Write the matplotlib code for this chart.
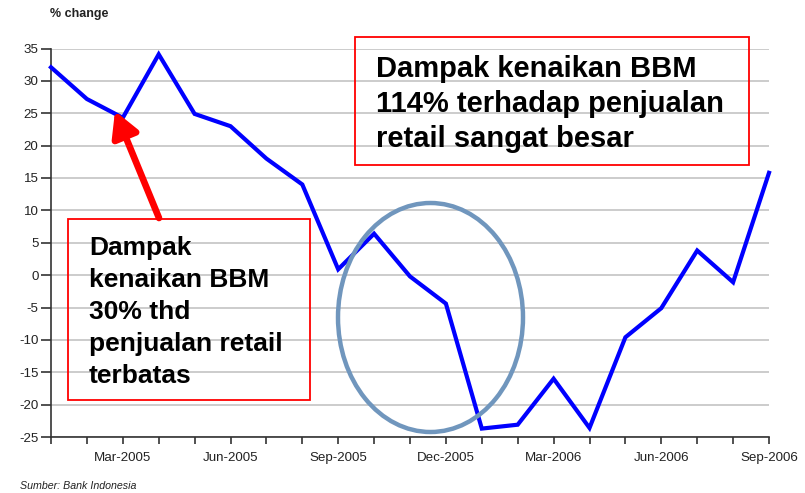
import matplotlib
matplotlib.use("Agg")
import matplotlib.pyplot as plt
from matplotlib.patches import Rectangle, Ellipse, FancyArrowPatch

plt.rcParams['font.family'] = ['Liberation Sans', 'DejaVu Sans']

# ---- data ----
months = ["Jan-2005", "Feb-2005", "Mar-2005", "Apr-2005", "May-2005", "Jun-2005",
          "Jul-2005", "Aug-2005", "Sep-2005", "Oct-2005", "Nov-2005", "Dec-2005",
          "Jan-2006", "Feb-2006", "Mar-2006", "Apr-2006", "May-2006", "Jun-2006",
          "Jul-2006", "Aug-2006", "Sep-2006"]
values = [32.1, 27.2, 24.3, 34.1, 24.9, 23.0, 18.0, 14.0, 0.9, 6.4, -0.2, -4.4,
          -23.7, -23.1, -16.0, -23.6, -9.6, -5.1, 3.8, -1.1, 15.8]
yticks = [35, 30, 25, 20, 15, 10, 5, 0, -5, -10, -15, -20, -25]
labelled_months = ["Mar-2005", "Jun-2005", "Sep-2005", "Dec-2005",
                   "Mar-2006", "Jun-2006", "Sep-2006"]

W, H = 805, 493
fig = plt.figure(figsize=(W / 100, H / 100), dpi=100)

def fx(x):
    return x / W

def fy(y):
    return 1 - y / H

ax = fig.add_axes([fx(51), fy(437), fx(769) - fx(51), fy(48.5) - fy(437)])
x = list(range(len(months)))
ax.plot(x, values, color='#0000ff', lw=3.0, solid_joinstyle='miter', zorder=3, clip_on=False)

ax.set_xlim(0, len(months) - 1)
ax.set_ylim(-25, 35)
ax.set_yticks(yticks)
ax.set_yticklabels([str(v) for v in yticks])
ax.set_xticks(x)
ax.set_xticklabels([m if m in labelled_months else "" for m in months])
ax.grid(axis='y', color='#c8c8c8', lw=1.3)
ax.set_axisbelow(True)
for s in ['top', 'right']:
    ax.spines[s].set_visible(False)
for s in ['left', 'bottom']:
    ax.spines[s].set_color('#333333')
    ax.spines[s].set_linewidth(1.2)
ax.tick_params(axis='both', colors='#333333', width=1.2,
               labelsize=9.6, labelcolor='#222222')
ax.tick_params(axis='x', length=5, pad=6)
ax.tick_params(axis='y', length=7.5, pad=1.5)

# header & source
fig.text(fx(50), fy(14), "% change", fontsize=9, fontweight='bold',
         ha='left', va='center', color='#222222')
fig.text(fx(20), fy(486), "Sumber: Bank Indonesia", fontsize=7.7, style='italic',
         ha='left', va='center', color='#222222')

# upper annotation box
fig.add_artist(Rectangle((fx(355), fy(165)), fx(749) - fx(355), fy(37) - fy(165),
                         transform=fig.transFigure, fill=False, ec='#ff0000', lw=1.3))
up_lines = ["Dampak kenaikan BBM", "114% terhadap penjualan", "retail sangat besar"]
for i, t in enumerate(up_lines):
    fig.text(fx(376), fy(77 + 35 * i), t, fontsize=21, fontweight='bold',
             ha='left', va='baseline', color='black')

# left annotation box
fig.add_artist(Rectangle((fx(68), fy(400)), fx(310) - fx(68), fy(219) - fy(400),
                         transform=fig.transFigure, fill=False, ec='#ff0000', lw=1.3))
left_lines = ["Dampak", "kenaikan BBM", "30% thd", "penjualan retail", "terbatas"]
for i, t in enumerate(left_lines):
    fig.text(fx(89), fy(255 + 32 * i), t, fontsize=19, fontweight='bold',
             ha='left', va='baseline', color='black')

# red arrow
fig.add_artist(FancyArrowPatch(
    (fx(159), fy(218)), (fx(115), fy(111)), transform=fig.transFigure,
    arrowstyle='-|>,head_length=1.0,head_width=0.55', mutation_scale=15,
    color='#ff0000', lw=4.8, shrinkA=0, shrinkB=0, zorder=5))

# ellipse
fig.add_artist(Ellipse((fx(430.5), fy(317.5)), fx(185), 229 / H,
                       transform=fig.transFigure, fill=False, ec='#7096bd', lw=3.2))

fig.savefig("out.png", dpi=100)
